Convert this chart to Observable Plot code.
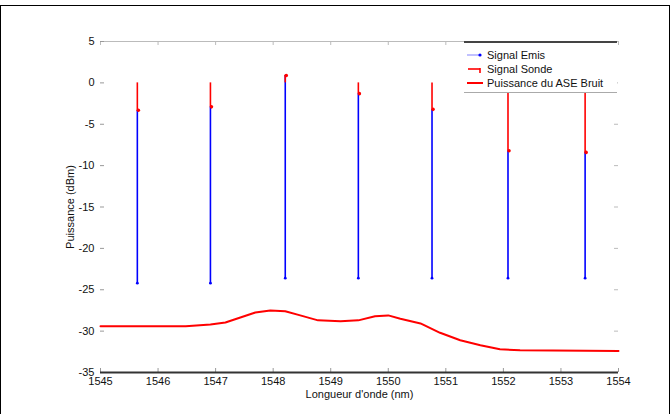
<!DOCTYPE html>
<html>
<head>
<meta charset="utf-8">
<script src="https://cdn.jsdelivr.net/npm/d3@7"></script>
<script src="https://cdn.jsdelivr.net/npm/@observablehq/plot@0.6"></script>
<style>
  html, body { margin: 0; padding: 0; background: #fff; }
  #wrap { position: relative; width: 672px; height: 414px; overflow: hidden; font-family: "Liberation Sans", Arial, sans-serif; }
  #border { position: absolute; left: 0; top: 5px; width: 668px; height: 420px; border: 1px solid #000; pointer-events: none; }
  #legend { position: absolute; left: 464px; top: 41px; width: 153px; height: 49px; background: #fff;
            border-top: 2px solid #444; border-bottom: 1px solid #aaa; font-size: 11px; color: #111; }
  .row { position: absolute; left: 0; height: 14px; display: flex; align-items: center; white-space: nowrap; }
  .row svg { margin-left: 3px; margin-right: 4px; }
</style>
</head>
<body>
<div id="wrap">
  <div id="chart"></div>
  <div id="legend"></div>
  <div id="border"></div>
</div>
<script>
// ---- data ----
const wavelengths = [1545.64, 1546.91, 1548.21, 1549.48, 1550.76, 1552.08, 1553.42];
const signalEmis = [-24.2, -24.2, -23.6, -23.6, -23.6, -23.6, -23.6];
const signalSonde = [-3.3, -2.9, 0.9, -1.3, -3.2, -8.2, -8.4];
const sondeBase = 0;
const noiseWavelengths = [1545.00, 1546.48, 1546.91, 1547.17, 1547.43, 1547.69, 1547.95, 1548.21, 1548.47, 1548.78, 1549.17, 1549.48, 1549.77, 1550.00, 1550.21, 1550.56, 1550.90, 1551.25, 1551.60, 1551.94, 1552.29, 1554.00];
const noisePower = [-29.4, -29.4, -29.2, -28.96, -28.35, -27.75, -27.5, -27.6, -28.1, -28.7, -28.8, -28.7, -28.2, -28.1, -28.5, -29.07, -30.2, -31.1, -31.7, -32.2, -32.3, -32.4];
const xTicks = [1545, 1546, 1547, 1548, 1549, 1550, 1551, 1552, 1553, 1554];
const yTicks = [5, 0, -5, -10, -15, -20, -25, -30, -35];
const legendLabels = ["Signal Emis", "Signal Sonde", "Puissance du ASE Bruit"];
const xLabel = "Longueur d'onde (nm)";
const yLabel = "Puissance (dBm)";

const stems = wavelengths.map((w, i) => ({w, emis: signalEmis[i], sonde: signalSonde[i], base: sondeBase}));
const noise = noiseWavelengths.map((w, i) => ({w, p: noisePower[i]}));

const W = 672, H = 414, mL = 100, mR = 54, mT = 41, mB = 42;
const innerH = H - mT - mB, innerW = W - mL - mR;

const chart = Plot.plot({
  width: W, height: H,
  marginLeft: mL, marginRight: mR, marginTop: mT, marginBottom: mB,
  style: {fontFamily: "'Liberation Sans', Arial, sans-serif", fontSize: "11px", color: "#111", background: "#fff"},
  x: {domain: [1545, 1554]},
  y: {domain: [-35, 5]},
  marks: [
    Plot.ruleY([5], {stroke: "#bbb", strokeWidth: 1.2}),
    Plot.tickX(xTicks, {x: d => d, insetTop: innerH - 4, stroke: "#999"}),
    Plot.tickX(xTicks, {x: d => d, insetBottom: innerH - 4, stroke: "#bbb"}),
    Plot.tickY(yTicks, {y: d => d, insetRight: innerW - 4, stroke: "#999"}),
    Plot.tickY(yTicks, {y: d => d, insetLeft: innerW - 4, stroke: "#bbb"}),
    Plot.line(noise, {x: "w", y: "p", stroke: "#ff0000", strokeWidth: 2}),
    Plot.ruleX(stems, {x: "w", y1: "emis", y2: "sonde", stroke: "#0000ff", strokeWidth: 1.6}),
    Plot.dot(stems, {x: "w", y: "emis", r: 1.4, fill: "#0000ff", stroke: null}),
    Plot.ruleX(stems, {x: "w", y1: "base", y2: "sonde", stroke: "#ff0000", strokeWidth: 1.6}),
    Plot.dot(stems, {x: "w", y: "sonde", r: 1.8, fill: "#ff0000", stroke: null, dx: 1}),
    Plot.axisX(xTicks, {tickSize: 0, tickPadding: 5, tickFormat: d => String(d), label: xLabel, labelAnchor: "center", labelArrow: "none", labelOffset: 25, fill: "#111"}),
    Plot.axisY(yTicks, {tickSize: 0, tickPadding: 6, tickFormat: d => String(d), label: yLabel, labelAnchor: "center", labelArrow: "none", labelOffset: 34, fill: "#111"}),
    Plot.ruleY([-35], {stroke: "#333", strokeWidth: 2})
  ]
});
document.getElementById("chart").appendChild(chart);

// legend
const legend = document.getElementById("legend");
const colors = ["#0000ff", "#ff0000", "#ff0000"];
const rowsY = [5, 19, 33];
legendLabels.forEach((lab, i) => {
  const row = document.createElement("div");
  row.className = "row";
  row.style.top = rowsY[i] + "px";
  let sw;
  if (i === 0) sw = `<svg width="16" height="10"><line x1="0" y1="5" x2="13" y2="5" stroke="${colors[i]}" stroke-width="1.2" opacity="0.4"/><circle cx="13" cy="5" r="1.6" fill="${colors[i]}"/></svg>`;
  else if (i === 1) sw = `<svg width="16" height="10"><line x1="1" y1="5" x2="13" y2="5" stroke="${colors[i]}" stroke-width="1.6"/><line x1="13" y1="4" x2="13" y2="9" stroke="${colors[i]}" stroke-width="1.6"/></svg>`;
  else sw = `<svg width="16" height="10"><line x1="0" y1="5" x2="16" y2="5" stroke="${colors[i]}" stroke-width="2"/></svg>`;
  row.innerHTML = sw + `<span>${lab}</span>`;
  legend.appendChild(row);
});
</script>
</body>
</html>
